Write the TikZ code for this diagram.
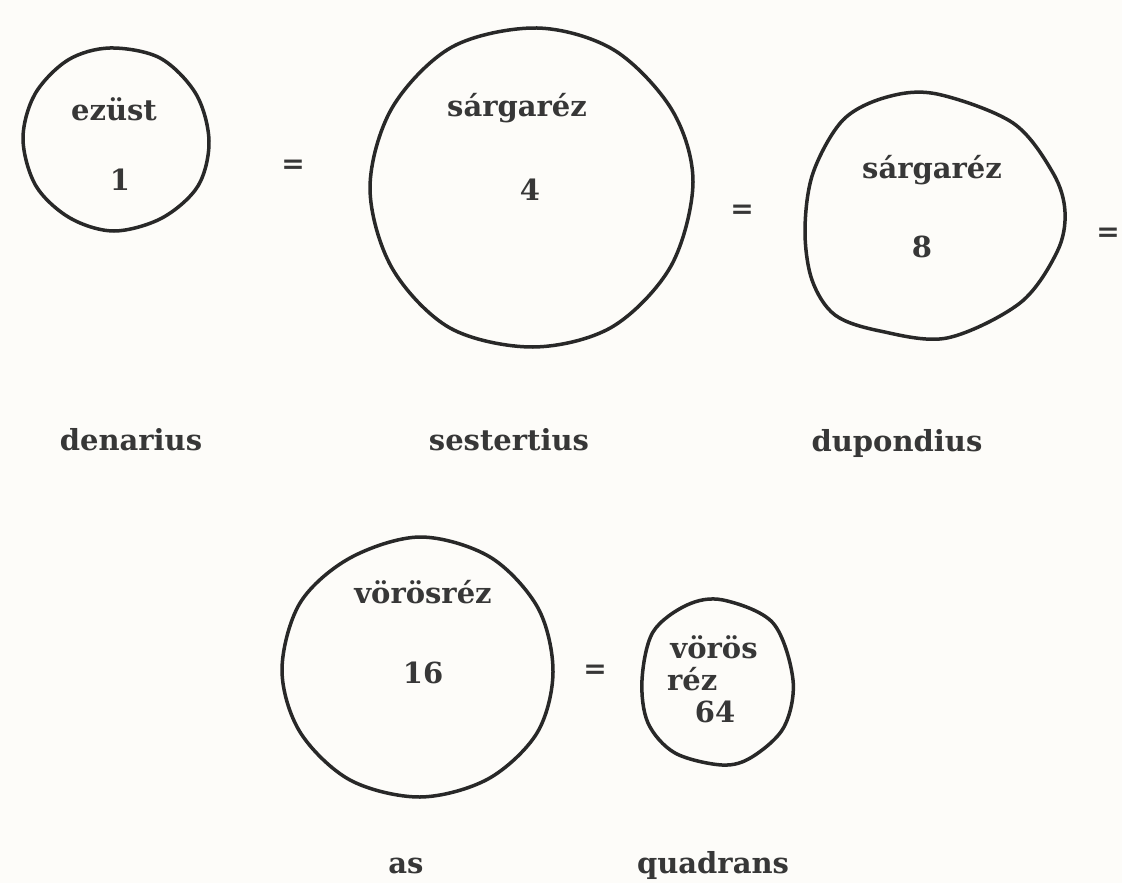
\documentclass[tikz,border=0pt]{standalone}
\usepackage{fontspec}
\setmainfont{DejaVu Serif}
\definecolor{ink}{RGB}{40,40,40}
\definecolor{txt}{RGB}{55,55,55}
\definecolor{paper}{RGB}{253,252,249}
\tikzset{
  coin/.style={draw=ink, line width=3.5pt, line join=round},
  lbl/.style={anchor=base, inner sep=0pt, text=txt, font=\fontsize{29}{35}\selectfont\bfseries},
  eqs/.style={anchor=center, inner sep=0pt, text=txt, font=\fontsize{28}{32}\selectfont\bfseries},
}
\begin{document}
\begin{tikzpicture}[x=1pt,y=-1pt]
\path[fill=paper] (0,0) rectangle (1122,883);
\useasboundingbox (0,0) rectangle (1122,883);
% coin outlines (hand drawn)
\draw[coin] plot[smooth cycle, tension=0.55] coordinates {(209,141) (198,186) (162,218) (114,231) (70,218) (36,186) (23,139) (35,94) (68,60) (110,48) (160,58) (196,94)};
\draw[coin] plot[smooth cycle, tension=0.55] coordinates {(693,182) (671,266) (612,327) (533,347) (450,328) (392,268) (370,188) (392,108) (452,47) (537,28) (614,50) (672,110)};
\draw[coin] plot[smooth cycle, tension=0.55] coordinates {(937,94) (1013,123) (1053,173) (1065,212) (1057,252) (1020,303) (947,338) (880,331) (835,315) (812,280) (805,230) (813,173) (843,120) (887,97)};
\draw[coin] plot[smooth cycle, tension=0.55] coordinates {(553,672) (537,733) (488,779) (420,797) (350,780) (300,732) (282,670) (300,603) (350,558) (420,537) (490,557) (538,608)};
\draw[coin] plot[smooth cycle, tension=0.55] coordinates {(723,600) (773,623) (793,680) (784,727) (752,757) (722,765) (675,753) (648,723) (642,680) (653,632) (687,605)};
% texts in coins
\node[lbl] (m1) at (114,120) {ezüst};
\node[lbl] (v1) at (120,190) {1};
\node[lbl] (m2) at (517,117) {sárgaréz};
\node[lbl] (v2) at (530,200) {4};
\node[lbl] (m3) at (932,178) {sárgaréz};
\node[lbl] (v3) at (922,257) {8};
\node[lbl] (m4) at (423,603) {vörösréz};
\node[lbl] (v4) at (423,683) {16};
\node[lbl] (m5a) at (714,658) {vörös};
\node[lbl, anchor=base west] (m5b) at (667,690) {réz};
\node[lbl] (v5) at (715,722) {64};
% equal signs
\node[eqs] (e1) at (293,167) {=};
\node[eqs] (e2) at (742,212) {=};
\node[eqs] (e3) at (1108,235) {=};
\node[eqs] (e4) at (595,672) {=};
% names
\node[lbl] (n1) at (131,450) {denarius};
\node[lbl] (n2) at (509,450) {sestertius};
\node[lbl] (n3) at (897,451) {dupondius};
\node[lbl] (n4) at (406,873) {as};
\node[lbl] (n5) at (713,873) {quadrans};
\end{tikzpicture}
\end{document}
